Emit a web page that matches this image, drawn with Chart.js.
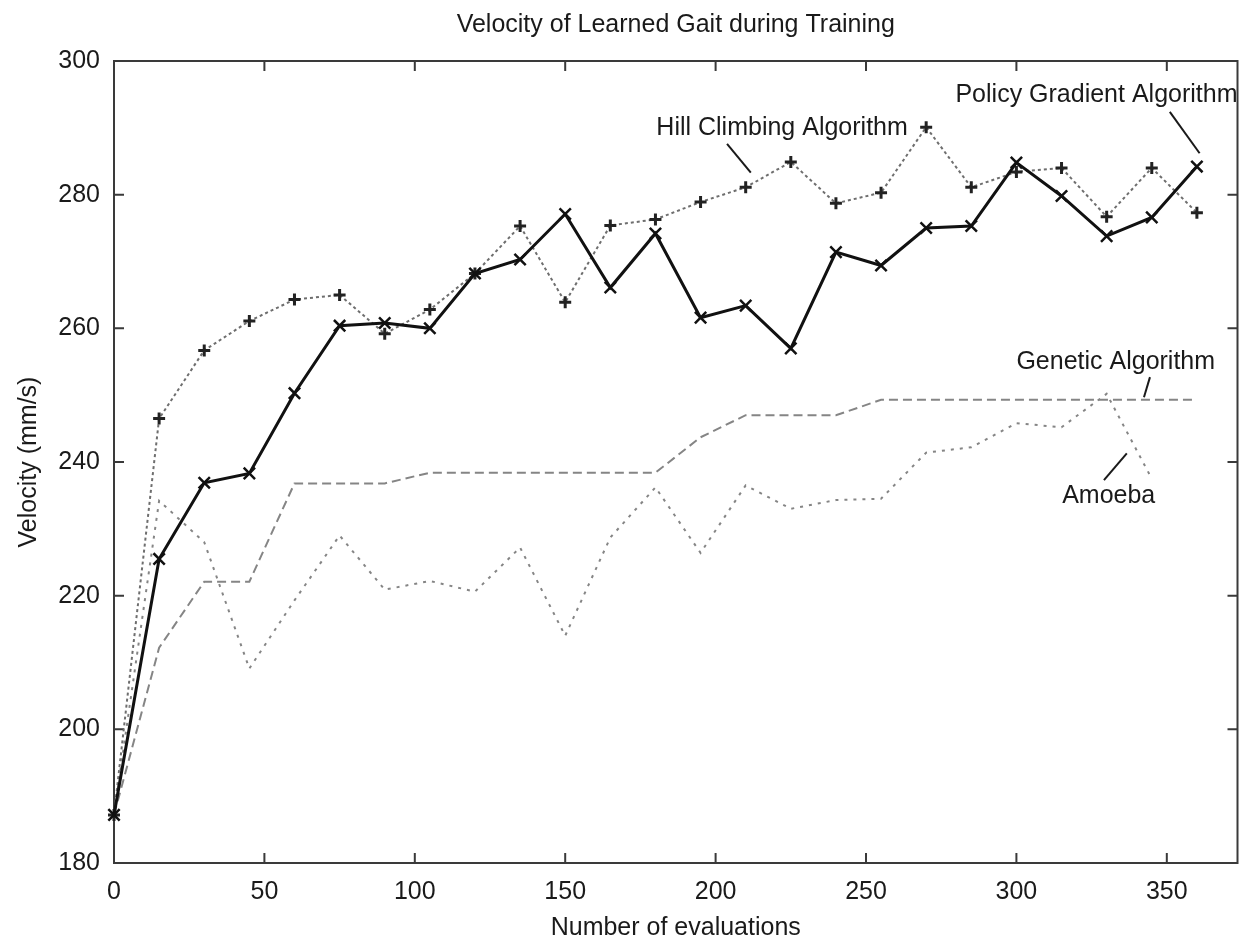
<!DOCTYPE html>
<html><head><meta charset="utf-8">
<script src="https://cdn.jsdelivr.net/npm/chart.js@4/dist/chart.umd.min.js"></script>
<style>html,body{margin:0;padding:0;background:#fff}#wrap{width:1248px;height:943px}</style>
</head><body><div id="wrap"><canvas id="c" width="1248" height="943"></canvas></div>
<script>
// ---- data ----
const evaluations = [0,15,30,45,60,75,90,105,120,135,150,165,180,195,210,225,240,255,270,285,300,315,330,345,360];
const policyGradient = [187.2,225.5,236.9,238.3,250.3,260.4,260.8,260.0,268.2,270.3,277.1,266.1,274.2,261.6,263.4,257.0,271.4,269.4,275.0,275.3,284.8,279.8,273.8,276.6,284.2];
const hillClimbing = [187.2,246.5,256.7,261.1,264.3,265.0,259.2,262.8,268.2,275.3,263.9,275.4,276.3,278.9,281.1,284.9,278.7,280.3,290.1,281.1,283.4,284.0,276.7,284.0,277.3];
const geneticAlgorithm = [187.2,212.2,222.1,222.1,236.8,236.8,236.8,238.4,238.4,238.4,238.4,238.4,238.4,243.7,247.0,247.0,247.0,249.3,249.3,249.3,249.3,249.3,249.3,249.3,249.3];
const amoeba = [187.2,234.2,228.0,209.1,219.3,229.0,220.9,222.2,220.6,227.2,214.0,228.7,236.2,226.4,236.5,233.0,234.3,234.5,241.4,242.2,245.8,245.2,250.2,237.5];
const xTickValues = [0,50,100,150,200,250,300,350];
const yTickValues = [180,200,220,240,260,280,300];
const seriesNames = ['Policy Gradient Algorithm','Hill Climbing Algorithm','Genetic Algorithm','Amoeba'];

// ---- annotation labels (data coordinates) ----
const labelNotes = [
  {text: seriesNames[1], x: 180.3, y: 290.0, align: 'left',  line: [[203.8,287.6],[211.7,283.3]]},
  {text: seriesNames[0], x: 373.5, y: 294.9, align: 'right', line: [[351.0,292.4],[360.9,286.2]]},
  {text: seriesNames[2], x: 300.0, y: 255.0, align: 'left',  line: [[344.4,252.7],[342.4,249.7]]},
  {text: seriesNames[3], x: 315.2, y: 234.9, align: 'left',  line: [[336.7,241.3],[329.1,237.3]]}
];

const toPoints = arr => arr.map((v, i) => ({x: evaluations[i], y: v}));
const FONT = "'Liberation Sans', Arial, Helvetica, sans-serif";
const FS = 25;

const framePlugin = {
  id: 'frame',
  beforeDatasetsDraw(chart) {
    const {ctx, chartArea: a, scales: {x, y}} = chart;
    ctx.save();
    ctx.strokeStyle = '#3a3a3a';
    ctx.lineWidth = 2;
    ctx.strokeRect(a.left, a.top, a.right - a.left, a.bottom - a.top);
    const L = 10;
    ctx.beginPath();
    x.ticks.forEach(t => {
      const px = x.getPixelForValue(t.value);
      if (px <= a.left + 1) return;
      ctx.moveTo(px, a.bottom); ctx.lineTo(px, a.bottom - L);
      ctx.moveTo(px, a.top); ctx.lineTo(px, a.top + L);
    });
    y.ticks.forEach(t => {
      const py = y.getPixelForValue(t.value);
      if (py >= a.bottom - 1 || py <= a.top + 1) return;
      ctx.moveTo(a.left, py); ctx.lineTo(a.left + L, py);
      ctx.moveTo(a.right, py); ctx.lineTo(a.right - L, py);
    });
    ctx.stroke();
    ctx.restore();
  },
  afterDatasetsDraw(chart) {
    const {ctx, scales: {x, y}} = chart;
    ctx.save();
    ctx.fillStyle = '#1a1a1a';
    ctx.strokeStyle = '#1a1a1a';
    ctx.lineWidth = 2;
    ctx.font = FS + 'px ' + FONT;
    ctx.textBaseline = 'middle';
    labelNotes.forEach(n => {
      ctx.textAlign = n.align;
      ctx.fillText(n.text, x.getPixelForValue(n.x), y.getPixelForValue(n.y));
      ctx.beginPath();
      ctx.moveTo(x.getPixelForValue(n.line[0][0]), y.getPixelForValue(n.line[0][1]));
      ctx.lineTo(x.getPixelForValue(n.line[1][0]), y.getPixelForValue(n.line[1][1]));
      ctx.stroke();
    });
    ctx.restore();
  }
};

new Chart(document.getElementById('c'), {
  type: 'line',
  data: {
    datasets: [
      {label: seriesNames[0], data: toPoints(policyGradient), borderColor: '#111', borderWidth: 3,
       pointStyle: 'crossRot', pointRadius: 8, pointBorderWidth: 2.5, pointBorderColor: '#111', pointBackgroundColor: '#111', clip: false},
      {label: seriesNames[1], data: toPoints(hillClimbing), borderColor: '#6e6e6e', borderWidth: 2, borderDash: [3, 3],
       pointStyle: 'cross', pointRadius: 6, pointBorderWidth: 3, pointBorderColor: '#222', pointBackgroundColor: '#222', clip: false},
      {label: seriesNames[2], data: toPoints(geneticAlgorithm), borderColor: '#858585', borderWidth: 2, borderDash: [9, 5],
       pointRadius: 0, clip: false},
      {label: seriesNames[3], data: toPoints(amoeba), borderColor: '#858585', borderWidth: 2, borderDash: [3, 6],
       pointRadius: 0, clip: false}
    ]
  },
  options: {
    responsive: false,
    animation: false,
    events: [],
    layout: {padding: {left: 0, right: 5, top: 0, bottom: 0}},
    plugins: {
      legend: {display: false},
      tooltip: {enabled: false},
      title: {
        display: true, text: 'Velocity of Learned Gait during Training', fullSize: false,
        color: '#1a1a1a', font: {family: FONT, size: FS, weight: 'normal'},
        padding: {top: 10, bottom: 21}
      }
    },
    scales: {
      x: {
        type: 'linear', min: 0, max: 373.5,
        grid: {display: false, drawTicks: false}, border: {display: false},
        ticks: {stepSize: 50, includeBounds: false, padding: 14, color: '#1a1a1a', font: {family: FONT, size: FS},
                maxRotation: 0, autoSkip: false},
        afterBuildTicks: s => { s.ticks = xTickValues.map(v => ({value: v})); },
        title: {display: true, text: 'Number of evaluations', color: '#1a1a1a', font: {family: FONT, size: FS}, padding: {top: 0, bottom: 0}},
        afterFit: s => { s.height = 80; }
      },
      y: {
        type: 'linear', min: 180, max: 300,
        grid: {display: false, drawTicks: false}, border: {display: false},
        ticks: {stepSize: 20, padding: 14, color: '#1a1a1a', font: {family: FONT, size: FS}},
        afterBuildTicks: s => { s.ticks = yTickValues.map(v => ({value: v})); },
        title: {display: true, text: 'Velocity (mm/s)', color: '#1a1a1a', font: {family: FONT, size: FS}, padding: {top: 14, bottom: 0}},
        afterFit: s => { s.width = 114; }
      }
    }
  },
  plugins: [framePlugin]
});
</script>
</body></html>
